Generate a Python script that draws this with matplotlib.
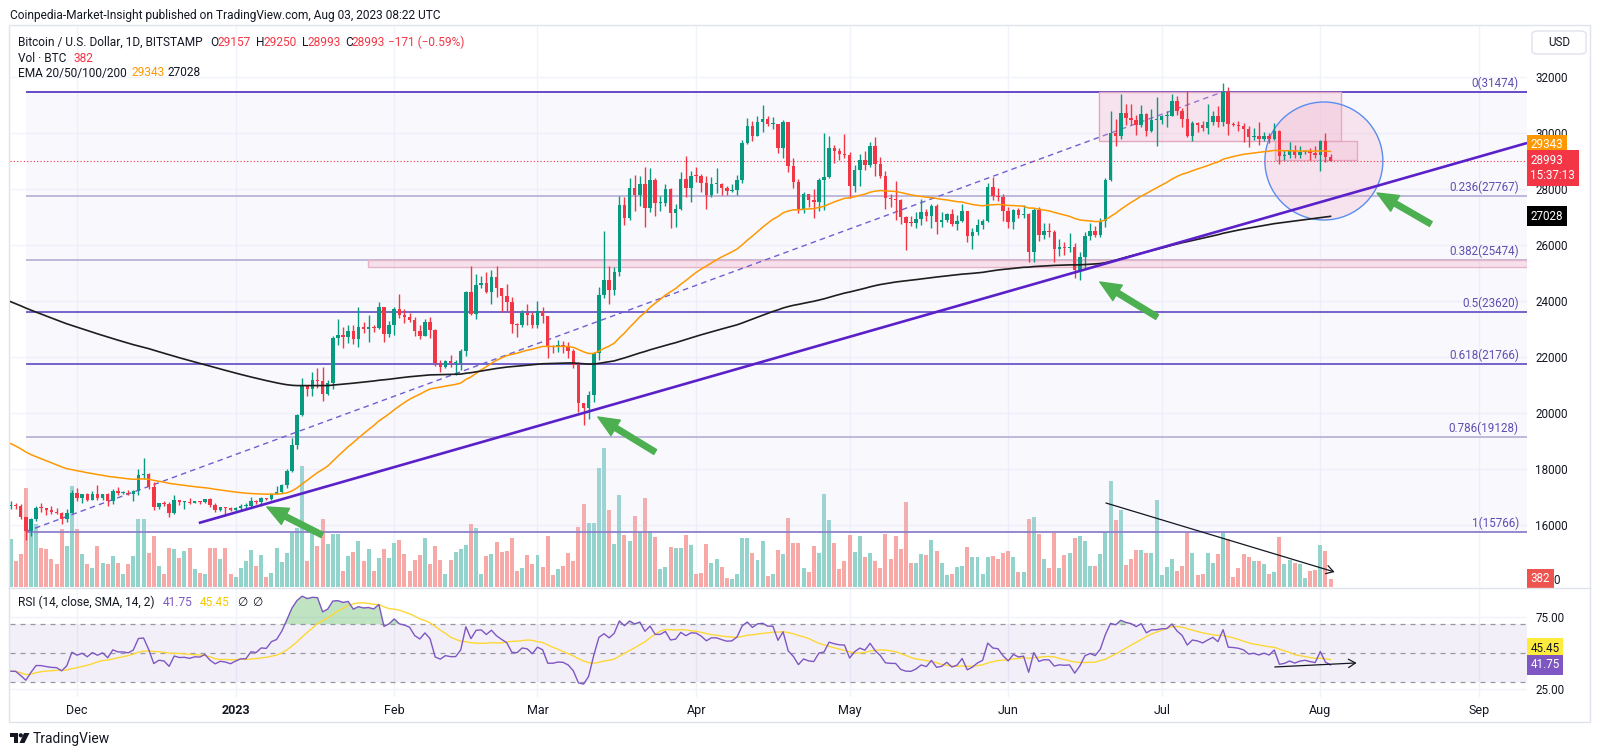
import matplotlib.pyplot as plt
import matplotlib.dates as mdates
from matplotlib.patches import Rectangle, Ellipse, FancyBboxPatch, Polygon
from matplotlib.lines import Line2D
import numpy as np
import pandas as pd

plt.rcParams["font.family"] = ["Roboto", "DejaVu Sans"]

# ---- daily BTC/USD candles, Nov 18 2022 .. Aug 3 2023 ----
first_open = 16690
closes = [
    16700, 16690, 16280, 15770, 16200, 16610, 16600, 16520, 16460, 16440, 16210, 16440, 17160,
    16980, 17090, 16890, 17110, 16970, 17090, 16840, 17230, 17130, 17130, 17090, 17210, 17780, 17810,
    17360, 16630, 16780, 16740, 16440, 16900, 16820, 16830, 16780, 16840, 16830, 16920, 16700, 16550,
    16630, 16600, 16540,
    16610, 16670, 16670, 16850, 16830, 16950, 16940, 17120, 17180, 17440, 17940, 18850, 19930, 20950,
    20870, 21170, 21160, 20690, 21080, 22680, 22780, 22710, 22930, 22630, 23060, 23010, 23080, 23030,
    23770, 22830, 23130,
    23730, 23490, 23430, 23330, 22930, 22760, 23250, 22960, 21800, 21630, 21860, 21790, 21790, 22200,
    24330, 23520, 24570, 24630, 24310, 24840, 24450, 24190, 23950, 23190, 23160, 23560, 23490, 23140,
    23650, 23470, 22360, 22350, 22430, 22410, 22200, 21710, 20360, 20190, 20630, 22160, 24200, 24750,
    24380, 25050, 27420, 26970, 28040, 27770, 28170, 27310, 28330, 27490, 27490, 28000, 27140, 27270,
    28350, 28030, 28480,
    28460, 28200, 27800, 28170, 28170, 28030, 27920, 27950, 28330, 29650, 30240, 29890, 30400, 30490,
    30320, 30320, 29450, 30390, 28820, 28250, 27270, 27820, 27590, 27520, 28310, 28420, 29480, 29340,
    29250, 29230,
    28090, 28680, 29030, 28850, 29530, 28900, 28450, 27690, 27630, 27620, 26990, 26800, 26780, 26930,
    27170, 27030, 27400, 26830, 26890, 27120, 26750, 26850, 27220, 26330, 26480, 26720, 26870, 28080,
    27750, 27700, 27210,
    26820, 27250, 27070, 27120, 25750, 27240, 26350, 26500, 26480, 25850, 25940, 25900, 25920, 25120,
    25580, 26330, 26510, 26340, 26840, 28320, 30000, 29890, 30700, 30550, 30470, 30270, 30690, 30080,
    30450, 30480,
    30590, 30620, 31160, 30770, 30510, 29900, 30350, 30290, 30170, 30410, 30620, 30390, 31470, 30330,
    30300, 30250, 30140, 29860, 29910, 29800, 29910, 29800, 30080, 29180, 29230, 29350, 29220, 29310,
    29350, 29280, 29230,
    29700, 29157, 28993,
]
highs = [
    16870, 16800, 16750, 16300, 16260, 16680, 16780, 16610, 16690, 16600, 16480, 16560, 17240,
    17310, 17100, 17150, 17200, 17420, 17110, 17130, 17290, 17350, 17230, 17260, 17240, 18000, 18390,
    17850, 17530, 16800, 16860, 16820, 17060, 16910, 16860, 16950, 16870, 16860, 16940, 16960, 16780,
    16650, 16640, 16650,
    16630, 16760, 16770, 16990, 16880, 16990, 16970, 17160, 17390, 17480, 17990, 19100, 19970, 21260,
    21000, 21460, 21620, 21650, 21190, 22750, 23340, 23070, 23160, 23160, 23780, 23260, 23500, 23160,
    23950, 23800, 23300,
    23780, 24240, 23720, 23580, 23430, 23150, 23350, 23440, 22990, 21900, 21900, 22070, 21890, 22290,
    24370, 25250, 24980, 24880, 25020, 25120, 25250, 24480, 24590, 24130, 23210, 23690, 23880, 23600,
    24000, 23780, 23470, 22420, 22610, 22560, 22540, 22270, 21810, 20370, 20800, 22170, 24500, 26500,
    25260, 25200, 27750, 27720, 28400, 28500, 28450, 28800, 28740, 28380, 27750, 28170, 28050, 27480,
    28620, 29180, 28640,
    28800, 28520, 28480, 28420, 28750, 28200, 28100, 28170, 28500, 29750, 30550, 30440, 30600, 31000,
    30620, 30560, 30320, 30480, 30410, 29100, 28370, 27880, 27830, 28000, 28400, 30000, 29880, 29570,
    29450, 29960,
    29330, 28860, 29260, 29370, 29690, 29850, 29150, 28650, 27830, 28300, 27630, 27050, 27020, 27180,
    27650, 27270, 27480, 27480, 27180, 27150, 27270, 27060, 27480, 27220, 26620, 26920, 26920, 28200,
    28430, 28030, 27830,
    27340, 27300, 27330, 27440, 27130, 27330, 27360, 26800, 26780, 26540, 26200, 26090, 26430, 26080,
    25740, 26470, 26770, 26690, 26980, 28400, 30780, 30500, 31400, 31030, 31050, 30660, 31000, 30700,
    30840, 31280,
    30650, 30780, 31380, 31330, 30880, 31500, 30440, 30380, 30430, 31030, 30800, 30980, 31800, 31640,
    30400, 30440, 30340, 30240, 30190, 30400, 30050, 29990, 30340, 30100, 29380, 29680, 29580, 29530,
    29410, 29450, 29520,
    29760, 30000, 29250,
]
lows = [
    16560, 16560, 16230, 15480, 15620, 16160, 16460, 16360, 16400, 16400, 16020, 16100, 16420,
    16860, 16800, 16870, 16880, 16880, 16910, 16690, 16740, 17080, 17090, 17070, 16870, 17080, 17660,
    17280, 16550, 16580, 16670, 16290, 16400, 16730, 16570, 16750, 16780, 16740, 16790, 16630, 16470,
    16490, 16330, 16490,
    16500, 16550, 16600, 16650, 16750, 16680, 16900, 16910, 17100, 17140, 17320, 17910, 18720, 19890,
    20620, 20600, 20880, 20420, 20660, 20870, 22420, 22320, 22500, 22460, 22340, 22860, 22540, 22890,
    22990, 22550, 22730,
    22800, 23380, 23230, 23260, 22760, 22640, 22740, 22690, 21690, 21450, 21600, 21630, 21360, 21540,
    22050, 23500, 23350, 24450, 24280, 23890, 24160, 23620, 23630, 22860, 22730, 23070, 23140, 23020,
    23030, 23200, 21950, 22150, 22190, 22130, 21950, 21600, 20050, 19570, 19780, 20400, 21900, 24100,
    23900, 24200, 24900, 26700, 26900, 27200, 27400, 26650, 27170, 27050, 27200, 27400, 26600, 26650,
    27250, 27700, 27550,
    28260, 27880, 27300, 27700, 27850, 27780, 27780, 27880, 27800, 28200, 29600, 29700, 29880, 30050,
    30240, 30150, 29270, 29100, 28620, 28020, 27130, 27150, 27360, 26950, 27200, 27250, 28380, 28920,
    29050, 29100,
    27680, 27880, 28120, 28690, 28800, 28470, 28380, 27300, 27360, 26900, 26750, 25810, 26680, 26600,
    26730, 26870, 26600, 26380, 26640, 26830, 26680, 26540, 26810, 26100, 25870, 26340, 26560, 26820,
    27590, 27570, 26850,
    26620, 26580, 26950, 26980, 25400, 25400, 26130, 26220, 26290, 25380, 25620, 25640, 25740, 24820,
    24750, 25180, 26180, 26290, 26270, 26650, 28280, 29550, 29800, 30290, 30270, 29920, 30220, 29880,
    30050, 29550,
    30330, 30200, 30600, 30650, 30220, 29850, 29710, 30050, 30080, 29960, 30290, 30200, 30250, 29940,
    30260, 30080, 29670, 29510, 29760, 29570, 29730, 29640, 29740, 28880, 29040, 29100, 29090, 29120,
    29260, 29040, 29110,
    28640, 28960, 28993,
]
volumes = [
    2400, 1300, 1650, 4950, 2950, 3150, 1950, 1900, 1400, 1150, 2900, 2050, 5050,
    2900, 1650, 1150, 950, 2050, 1200, 1150, 1550, 1200, 650, 1150, 1550, 3400, 3400, 1700, 2550,
    1050, 650, 1950, 1900, 1450, 1800, 1950, 900, 700, 650, 1950, 1950, 1400, 1950, 650,
    500, 950, 1300, 1850, 1050, 1600, 500, 700, 1950, 1250, 1700, 2700, 2950, 6050, 1300, 2700,
    2050, 3400, 2150, 2650, 2650, 800, 1550, 1750, 2300, 1300, 1900, 800, 1450, 1900, 1450,
    2200, 2350, 1650, 800, 1350, 1600, 2450, 1150, 2050, 1350, 650, 1350, 1750, 1900, 2100, 3150,
    2950, 650, 1550, 1650, 2250, 1750, 1800, 2450, 800, 950, 1600, 1150,
    1600, 1000, 2550, 600, 900, 1050, 1700, 1300, 3000, 4150, 3200, 3200, 5950, 6950, 3850, 2150,
    4600, 2600, 2300, 3550, 2700, 4450, 2800, 2500, 900, 1000, 2000, 1950, 1950, 2600, 2100,
    650, 700, 2150, 1200, 1400, 1000, 450, 400, 650, 2450, 2450, 1700, 1350, 2300, 550, 650, 1850,
    1650, 3450, 2200, 2200, 950, 750, 2050, 1700, 4650, 3350, 2200, 900, 1300,
    2600, 1750, 2550, 1500, 1700, 1300, 950, 2650, 1400, 2550, 1900, 4250, 1200, 1200, 1650, 1600,
    2350, 1800, 1200, 600, 650, 1000, 1050, 2000, 1500, 1500, 650, 1500, 1550, 1400, 1700,
    1800, 1500, 750, 750, 3400, 3500, 2650, 1400, 950, 2700, 950, 1600, 1700, 2450, 2550, 2300,
    1050, 1050, 1650, 2750, 5300, 3350, 3850, 1100, 1400, 1850, 1850, 1700, 1700, 4350,
    600, 1000, 1400, 800, 1050, 2750, 1700, 600, 650, 1700, 1200, 1650, 2700, 2400, 500, 950,
    1650, 1500, 1300, 1300, 1150, 650, 750, 2500, 1150, 1350, 1200, 1150, 450, 800, 850,
    2100, 1800, 382,
]

fib_high = 31474
fib_low = 15766
fib_ratios = [0, 0.236, 0.382, 0.5, 0.618, 0.786, 1]
fib_colors = ["#5b3cc4", "#b9b4d8", "#b9b4d8", "#6b58c6", "#6b58c6", "#b9b4d8", "#8c80cc"]
month_labels = ["Dec", "2023", "Feb", "Mar", "Apr", "May", "Jun", "Jul", "Aug", "Sep"]

GREEN, RED = "#089981", "#f23645"
VGREEN, VRED = "#92d3cc", "#f7a9a7"
TXT = "#131722"

dates = pd.date_range("2022-11-18", periods=len(closes), freq="D")
x = mdates.date2num(dates)
closes = np.array(closes, float)
opens = np.concatenate([[first_open], closes[:-1]])
up = closes >= opens


def ema(values, span, seed):
    alpha = 2 / (span + 1)
    out, e = [], seed
    for v in values:
        e += alpha * (v - e)
        out.append(e)
    return np.array(out)


def rsi(values, prev, length=14, avg_gain=160.0, avg_loss=270.0):
    out = []
    for v in values:
        ch = v - prev
        prev = v
        avg_gain = (avg_gain * (length - 1) + max(ch, 0)) / length
        avg_loss = (avg_loss * (length - 1) + max(-ch, 0)) / length
        out.append(100 - 100 / (1 + avg_gain / avg_loss))
    return np.array(out)


ema50 = ema(closes, 50, 19000)
ema200 = ema(closes, 200, 24050)
rsi14 = rsi(closes, first_open)
rsi_sma = pd.Series(rsi14).rolling(14, min_periods=1).mean().values

# ---- figure / axes in pixel layout ----
W, H = 1600, 756
fig = plt.figure(figsize=(16, 7.56), dpi=100)
fig.patch.set_facecolor("white")


def fx(p):
    return p / W


def fy(p):
    return 1 - p / H


ax = fig.add_axes([fx(10), fy(587), fx(1527) - fx(10), fy(25) - fy(587)])
axv = ax.twinx()
ax.set_zorder(axv.get_zorder() + 1)
ax.patch.set_visible(False)
axr = fig.add_axes([fx(10), fy(697), fx(1527) - fx(10), fy(588) - fy(697)], sharex=ax)

ref = mdates.date2num(pd.Timestamp("2022-12-01"))
xmin, xmax = ref - 13.1, ref + 283.4
ax.set_xlim(xmin, xmax)
ax.set_ylim(13786, 33857)
axv.set_ylim(0, 562 * 50)
axr.set_ylim(19.44, 95.14)

for a in (ax, axv, axr):
    for s in a.spines.values():
        s.set_visible(False)
    a.tick_params(length=0, labelsize=8.4, colors=TXT)

months = mdates.date2num(pd.date_range("2022-12-01", "2023-09-01", freq="MS"))
for m in months:
    axv.axvline(m, color="#f0f3fa", lw=1, zorder=0)
    axr.axvline(m, color="#f0f3fa", lw=1, zorder=0)
for p in range(16000, 32001, 2000):
    axv.axhline((p - 13786) / (33857 - 13786) * 562 * 50, color="#f0f3fa", lw=1, zorder=0)

ax.yaxis.tick_right()
ax.set_yticks(range(16000, 32001, 2000))
ax.set_yticklabels([str(p) for p in range(16000, 32001, 2000)])
ax.tick_params(axis="y", pad=6)
ax.tick_params(axis="x", labelbottom=False)
axv.set_yticks([])
axv.tick_params(labelbottom=False)

# volume
axv.bar(x, volumes, width=0.78, color=np.where(up, VGREEN, VRED), lw=0, zorder=1)

# fib retracement
x_fib = mdates.date2num(pd.Timestamp("2022-11-21"))
x_top = mdates.date2num(pd.Timestamp("2023-07-13"))
ax.fill_between([x_fib, xmax], fib_low, fib_high, color="#dcd8f5", alpha=0.15, lw=0, zorder=0)
for r, c in zip(fib_ratios, fib_colors):
    p = fib_high - r * (fib_high - fib_low)
    ax.hlines(p, x_fib, xmax, colors=c, lw=1.3, zorder=1)
    ax.text(ref + 281.8, p + 70, f"{r:g}({p:.0f})", ha="right", va="bottom",
            fontsize=8.4, color="#5e4db2", zorder=8)
ax.plot([x_fib, x_top], [fib_low, fib_high], color="#6f5fd0", lw=1, ls=(0, (4, 3)), zorder=2)

# zones
ax.add_patch(Rectangle((ref + 56.8, 25214), xmax - ref - 56.8, 260,
                       fc=(0.95, 0.70, 0.80, 0.35), ec="#e7b3c7", lw=1, zorder=1))
ax.add_patch(Rectangle((ref + 199.8, 29714), 47.2, 1760,
                       fc=(0.95, 0.70, 0.80, 0.30), ec="#e2a6bf", lw=1, zorder=2))
ax.add_patch(Rectangle((ref + 234.1, 29036), 16.0, 678,
                       fc=(0.95, 0.70, 0.80, 0.30), ec="#e2a6bf", lw=1, zorder=2))
ax.add_patch(Ellipse((ref + 243.7, 29000), 23.06, 4214,
                     fc=(0.95, 0.70, 0.80, 0.30), ec="#5b8def", lw=1, zorder=2))

# current price line
ax.axhline(closes[-1], color=RED, lw=0.8, ls=(0, (1, 2)), zorder=2)

# candles
cols = np.where(up, GREEN, RED)
ax.vlines(x, lows, highs, colors=cols, lw=1, zorder=3)
ax.bar(x, np.maximum(np.abs(closes - opens), 35), bottom=np.minimum(opens, closes),
       width=0.68, color=cols, lw=0, zorder=4)

# EMAs
ax.plot(x, ema50, color="#ff9800", lw=1.1, zorder=5)
ax.plot(x, ema200, color="#1e1e1e", lw=1.2, zorder=5)

# trendline
ax.plot([ref + 23.8, xmax], [16071, 29643], color="#5b21c9", lw=1.9, zorder=6,
        solid_capstyle="butt")

# arrows
arrows = [((ref + 37.1, 16643), (ref + 47.9, 15643)),
          ((ref + 101.8, 19857), (ref + 113.0, 18607)),
          ((ref + 199.9, 24679), (ref + 211.1, 23429)),
          ((ref + 254.1, 27857), (ref + 264.6, 26750))]
for tip, tail in arrows:
    ax.annotate("", xy=tip, xytext=tail, zorder=7,
                arrowprops=dict(arrowstyle="simple,head_length=1.5,head_width=1.3,tail_width=0.4",
                                color="#4caf50", shrinkA=0, shrinkB=0))
ax.annotate("", xy=(ref + 245.8, 14321), xytext=(ref + 201.1, 16786), zorder=7,
            arrowprops=dict(arrowstyle="->,head_length=0.5,head_width=0.3", color=TXT,
                            lw=0.9, shrinkA=0, shrinkB=0))

# ---- RSI panel ----
axr.axhspan(30, 70, color="#7e57c2", alpha=0.09, lw=0, zorder=0)
for lvl in (25, 75):
    axr.axhline(lvl, color="#f0f3fa", lw=1, zorder=0)
for lvl in (70, 50, 30):
    axr.axhline(lvl, color="#9598a1", lw=0.9, ls=(0, (4, 4)), zorder=1)
axr.fill_between(x, 70, rsi14, where=rsi14 > 70, interpolate=True, color="#4caf50",
                 alpha=0.35, lw=0, zorder=2)
axr.plot(x, rsi_sma, color="#fdd835", lw=1, zorder=3)
axr.plot(x, rsi14, color="#7e57c2", lw=1, zorder=4)
axr.annotate("", xy=(ref + 250.1, 43.1), xytext=(ref + 234.1, 40.3), zorder=5,
             arrowprops=dict(arrowstyle="->,head_length=0.5,head_width=0.3", color=TXT,
                             lw=0.9, shrinkA=0, shrinkB=0))
axr.yaxis.tick_right()
axr.set_yticks([25, 75])
axr.set_yticklabels(["25.00", "75.00"])
axr.tick_params(axis="y", pad=6)
axr.set_xticks(months)
axr.set_xticklabels(month_labels, fontsize=9)
axr.tick_params(axis="x", pad=5)
axr.get_xticklabels()[1].set_fontweight("bold")

# ---- right-scale value labels ----
def tag(a, y, text, fc, tc="white"):
    a.annotate(text, xy=(1, y), xycoords=("axes fraction", "data"), xytext=(2.5, 0),
               textcoords="offset points", ha="left", va="center", fontsize=8.4, color=tc,
               annotation_clip=False, zorder=10,
               bbox=dict(boxstyle="square,pad=0.32", fc=fc, ec="none"))


fig.text(fx(1553), fy(581), "0", fontsize=8.4, color=TXT, va="center")
tag(ax, 29580, "29343", "#ff9800")
tag(ax, 28750, "28993\n15:37:13", RED)
tag(ax, 27028, "27028", "#000000")
tag(axv, 400, "382", "#ef5350")
tag(axr, 53.1, "45.45", "#ffeb3b", tc=TXT)
tag(axr, 41.75, "41.75", "#7e57c2")

fig.add_artist(FancyBboxPatch((fx(1532), fy(54)), fx(1586) - fx(1532), fy(31) - fy(54),
                              boxstyle="round,pad=0,rounding_size=0.004",
                              transform=fig.transFigure, fc="white", ec="#e0e3eb", lw=1))
fig.text(fx(1559), fy(43), "USD", ha="center", va="center", fontsize=8.4, color=TXT)

# ---- frame ----
fig.add_artist(Rectangle((fx(9), fy(722)), fx(1590) - fx(9), fy(25) - fy(722),
                         transform=fig.transFigure, fill=False, ec="#e0e3eb", lw=1))
fig.add_artist(Line2D([fx(9), fx(1590)], [fy(587.5)] * 2, transform=fig.transFigure,
                      color="#e0e3eb", lw=1))

# ---- texts ----
fig.text(fx(10), fy(15), "Coinpedia-Market-Insight published on TradingView.com, Aug 03, 2023 08:22 UTC",
         fontsize=8.6, color=TXT, va="center")
legend_parts = [
    (18, 42, "Bitcoin / U.S. Dollar, 1D, BITSTAMP", TXT),
    (210, 42, "O", TXT), (217, 42, "29157", RED),
    (256, 42, "H", TXT), (263, 42, "29250", RED),
    (302, 42, "L", TXT), (308, 42, "28993", RED),
    (345, 42, "C", TXT), (352, 42, "28993", RED),
    (388, 42, "\u2212171 (\u22120.59%)", RED),
    (18, 58, "Vol \u00b7 BTC", TXT), (73, 58, "382", RED),
    (18, 73, "EMA 20/50/100/200", TXT), (131, 73, "29343", "#ff9800"), (168, 73, "27028", TXT),
    (18, 602, "RSI (14, close, SMA, 14, 2)", TXT), (163, 602, "41.75", "#7e57c2"),
    (200, 602, "45.45", "#f5c800"), (237, 602, "\u2205", TXT), (252, 602, "\u2205", TXT),
]
for px_, py_, s, c in legend_parts:
    fig.text(fx(px_), fy(py_), s, fontsize=8.6, color=c, va="center")

# TradingView logo
for poly in ([(10, 733), (18, 733), (18, 743), (14.5, 743), (14.5, 736.5), (10, 736.5)],
             [(24, 733), (29.5, 733), (24.5, 743), (19.5, 743)]):
    fig.add_artist(Polygon([(fx(a), fy(b)) for a, b in poly], closed=True,
                           transform=fig.transFigure, fc=TXT, ec="none"))
fig.add_artist(Ellipse((fx(20.8), fy(735.3)), fx(4.2), 4.2 / H, transform=fig.transFigure,
                       fc=TXT, ec="none"))
fig.text(fx(33), fy(739), "TradingView", fontsize=10, color=TXT, va="center")

fig.savefig("out.png", dpi=100, facecolor="white")
